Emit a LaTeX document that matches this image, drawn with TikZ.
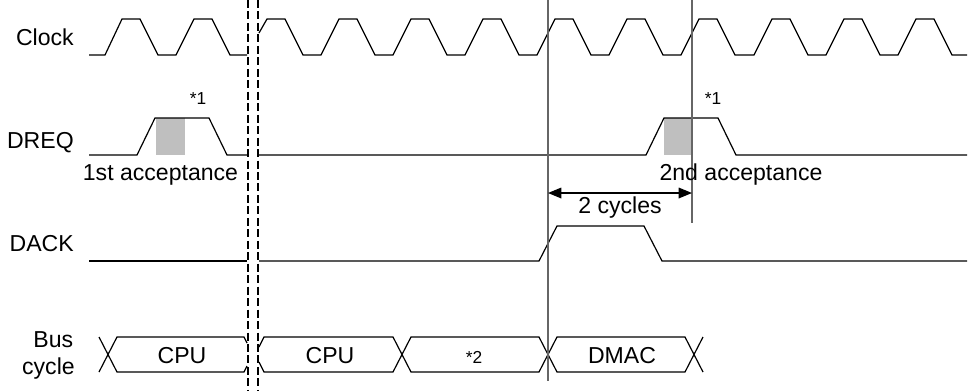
\documentclass[tikz,border=0pt]{standalone}
\usepackage{fontspec}
\setmainfont{Liberation Sans}
\usetikzlibrary{arrows.meta}
\begin{document}
\begin{tikzpicture}[x=0.75pt,y=-0.75pt,
  sig/.style={line width=0.9pt,black,line join=miter},
  guide/.style={line width=0.9pt,black!60},
  brk/.style={line width=0.8pt,black,dash pattern=on 6pt off 2.6pt},
  lbl/.style={inner sep=0pt,font=\fontsize{17.3pt}{20pt}\selectfont},
  note/.style={inner sep=0pt,font=\fontsize{13pt}{15pt}\selectfont},
  acc/.style={fill=black!25,draw=none}]
\useasboundingbox (0,0) rectangle (968,390);
% signal names
\node[lbl,anchor=base east] (lclk) at (74,45) {Clock};
\node[lbl,anchor=base east] (ldreq) at (74,148) {DREQ};
\node[lbl,anchor=base east] (ldack) at (74,251.5) {DACK};
\node[lbl,anchor=base east] (lbus) at (73.5,347) {Bus};
\node[lbl,anchor=base east] (lcyc) at (75,374) {cycle};
% acceptance windows
\fill[acc] (156,118) rectangle (185,155);
\fill[acc] (664,118) rectangle (692,155);
% Clock
\draw[sig] (89,55) -- (105,55) -- (122,19) -- (140,19) -- (158,55) -- (176,55) -- (194,19) -- (212,19) -- (230,55) -- (247,55);
\draw[sig] (259,33) -- (267,19) -- (285,19) -- (303,55) -- (321,55) -- (339,19) -- (357,19) -- (375,55) -- (393,55) -- (411,19) -- (429,19) -- (447,55) -- (465,55) -- (483,19) -- (501,19) -- (519,55) -- (537,55) -- (555,19) -- (573,19) -- (591,55) -- (609,55) -- (627,19) -- (645,19) -- (663,55) -- (681,55) -- (699,19) -- (717,19) -- (735,55) -- (754,55) -- (772,19) -- (790,19) -- (808,55) -- (826,55) -- (844,19) -- (862,19) -- (880,55) -- (898,55) -- (916,19) -- (934,19) -- (952,55) -- (967,55);
% DREQ
\draw[sig] (89,155) -- (137,155) -- (155,118) -- (209,118) -- (227,155) -- (247,155);
\draw[sig] (259,155) -- (646,155) -- (664,118) -- (718,118) -- (736,155) -- (967,155);
% DACK
\draw[sig] (89,261) -- (247,261);
\draw[sig] (259,261) -- (539,261) -- (557,226) -- (644,226) -- (662,261) -- (967,261);
% Bus cycle
\draw[sig] (99,337) -- (117,372) -- (244,372) -- (247,366);
\draw[sig] (99,372) -- (117,337) -- (244,337) -- (247,343);
\draw[sig] (259,347) -- (264,337) -- (393,337) -- (411,372) -- (539,372) -- (557,337) -- (685,337) -- (703,372);
\draw[sig] (259,362) -- (264,372) -- (393,372) -- (411,337) -- (539,337) -- (557,372) -- (685,372) -- (703,337);
\node[lbl,anchor=base] (cpu1) at (182,363) {CPU};
\node[lbl,anchor=base] (cpu2) at (330,363) {CPU};
\node[note,anchor=base] (n2) at (474,363) {*2};
\node[lbl,anchor=base] (dmac) at (622,363) {DMAC};
% break lines
\coordinate (b1t) at (248,0); \coordinate (b1b) at (248,390);
\coordinate (b2t) at (258,0); \coordinate (b2b) at (258,390);
\draw[brk] (b1t) -- (b1b);
\draw[brk] (b2t) -- (b2b);
% guide lines
\coordinate (g1t) at (548,0); \coordinate (g1b) at (548,381);
\coordinate (g2t) at (692,0); \coordinate (g2b) at (692,223);
\draw[guide] (g1t) -- (g1b);
\draw[guide] (g2t) -- (g2b);
% 2 cycles arrow
\coordinate (a1) at (548,193); \coordinate (a2) at (692,193);
\draw[line width=0.9pt,{Triangle[length=10pt,width=8pt]}-{Triangle[length=10pt,width=8pt]}] (a1) -- (a2);
\node[lbl,anchor=base] (cyc) at (620,213) {2 cycles};
% notes
\node[note,anchor=base] (s1a) at (198,104.5) {*1};
\node[note,anchor=base] (s1b) at (713,104.5) {*1};
\node[lbl,anchor=base] (acc1) at (160.5,180) {1st acceptance};
\node[lbl,anchor=base] (acc2) at (741,180) {2nd acceptance};
\end{tikzpicture}
\end{document}
